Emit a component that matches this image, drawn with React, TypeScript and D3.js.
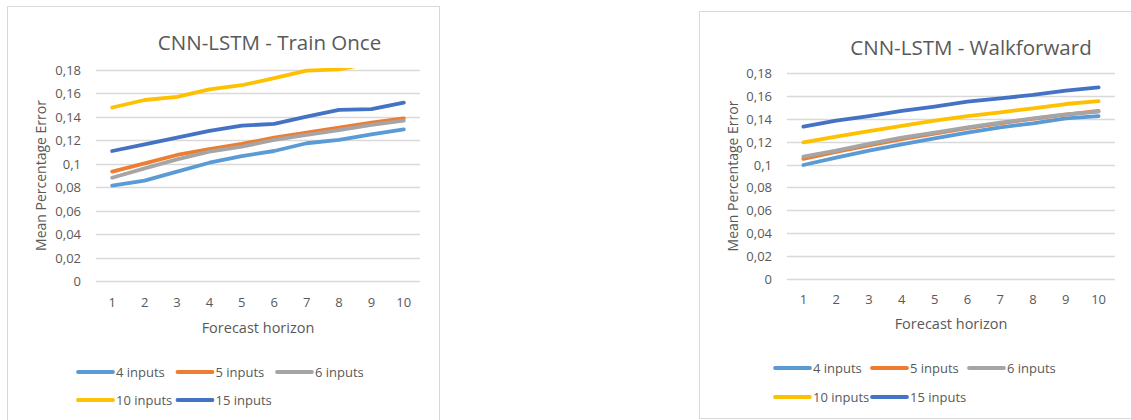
import React from "react";
import * as d3 from "d3";

// Forecast horizons (x categories)
const horizons = [1, 2, 3, 4, 5, 6, 7, 8, 9, 10];
const yTicks = [0, 0.02, 0.04, 0.06, 0.08, 0.1, 0.12, 0.14, 0.16, 0.18];
const seriesNames = ["4 inputs", "5 inputs", "6 inputs", "10 inputs", "15 inputs"];
const seriesColors = ["#5B9BD5", "#ED7D31", "#A5A5A5", "#FFC000", "#4472C4"];

// Train once: mean percentage error per input window
const trainOnce4 = [0.0813, 0.0856, 0.0933, 0.1009, 0.1066, 0.1109, 0.1175, 0.1203, 0.1251, 0.1294];
const trainOnce5 = [0.0933, 0.1004, 0.1075, 0.1126, 0.1169, 0.1223, 0.1265, 0.1308, 0.135, 0.1388];
const trainOnce6 = [0.0881, 0.0961, 0.1038, 0.1103, 0.1146, 0.1203, 0.1246, 0.1288, 0.1331, 0.1368];
const trainOnce10 = [0.148, 0.1544, 0.157, 0.1635, 0.167, 0.173, 0.1795, 0.1805, 0.186, 0.19];
const trainOnce15 = [0.1109, 0.1166, 0.1223, 0.128, 0.1325, 0.134, 0.1402, 0.1459, 0.1467, 0.1521];

// Walkforward: mean percentage error per input window
const walk4 = [0.0996, 0.106, 0.1121, 0.1177, 0.1229, 0.1279, 0.1325, 0.136, 0.1404, 0.1424];
const walk5 = [0.105, 0.111, 0.1168, 0.1222, 0.127, 0.1318, 0.136, 0.14, 0.1437, 0.1468];
const walk6 = [0.1069, 0.1121, 0.118, 0.1235, 0.1279, 0.1325, 0.1366, 0.1404, 0.1439, 0.1462];
const walk10 = [0.1194, 0.1244, 0.1293, 0.1337, 0.1383, 0.1424, 0.1456, 0.1491, 0.1529, 0.1555];
const walk15 = [0.1331, 0.1383, 0.1424, 0.1468, 0.1506, 0.155, 0.1579, 0.1608, 0.1646, 0.1675];

const FONT = "'Open Sans', 'DejaVu Sans', sans-serif";
const TEXT = "#595959";
const GRID = "#D9D9D9";

const fmt = (v: number) => (v === 0 ? "0" : String(+v.toFixed(2)).replace(".", ","));

type Layout = {
  id: string;
  title: string;
  series: number[][];
  frame: { x: number; y: number; w: number; h: number };
  plot: { left: number; right: number; top: number; bottom: number };
  titleX: number;
  titleY: number;
  yTitleX: number;
  xLabelY: number;
  xTitleY: number;
  legend: { x: number; y1: number; y2: number; dx: number };
};

function LineChart({ cfg }: { cfg: Layout }) {
  const { plot } = cfg;
  const x = d3.scaleBand<number>().domain(horizons).range([plot.left, plot.right]);
  const y = d3.scaleLinear().domain([0, 0.18]).range([plot.bottom, plot.top]);
  const cx = (h: number) => (x(h) as number) + x.bandwidth() / 2;
  const line = d3
    .line<number>()
    .x((_, i) => cx(horizons[i]))
    .y((v) => y(v));
  const midX = (plot.left + plot.right) / 2;
  const midY = (plot.top + plot.bottom) / 2;
  const clipId = `clip-${cfg.id}`;

  const legendItems = seriesNames.map((name, i) => {
    const row = i < 3 ? 0 : 1;
    const col = i < 3 ? i : i - 3;
    return { name, color: seriesColors[i], lx: cfg.legend.x + col * cfg.legend.dx, ly: row === 0 ? cfg.legend.y1 : cfg.legend.y2 };
  });

  return (
    <g>
      <rect
        x={cfg.frame.x + 0.5}
        y={cfg.frame.y + 0.5}
        width={cfg.frame.w}
        height={cfg.frame.h}
        fill="#fff"
        stroke={GRID}
        strokeWidth={1}
      />
      <clipPath id={clipId}>
        <rect x={plot.left} y={plot.top - 2} width={plot.right - plot.left} height={plot.bottom - plot.top + 4} />
      </clipPath>
      <text x={cfg.titleX} y={cfg.titleY} textAnchor="middle" dominantBaseline="central" fontSize={20.5} fill={TEXT}>
        {cfg.title}
      </text>
      {yTicks.map((t) => (
        <g key={t}>
          <line x1={plot.left} x2={plot.right} y1={Math.round(y(t)) + 0.5} y2={Math.round(y(t)) + 0.5} stroke={GRID} strokeWidth={1.3} />
          <text x={plot.left - 15} y={y(t)} textAnchor="end" dominantBaseline="central" fontSize={13} fill={TEXT}>
            {fmt(t)}
          </text>
        </g>
      ))}
      {horizons.map((h) => (
        <text key={h} x={cx(h)} y={cfg.xLabelY} textAnchor="middle" dominantBaseline="central" fontSize={13} fill={TEXT}>
          {h}
        </text>
      ))}
      <text
        transform={`translate(${cfg.yTitleX},${midY}) rotate(-90)`}
        textAnchor="middle"
        dominantBaseline="central"
        fontSize={14}
        fill={TEXT}
      >
        Mean Percentage Error
      </text>
      <text x={midX} y={cfg.xTitleY} textAnchor="middle" dominantBaseline="central" fontSize={14.5} fill={TEXT}>
        Forecast horizon
      </text>
      <g clipPath={`url(#${clipId})`}>
        {cfg.series.map((vals, i) => (
          <path
            key={i}
            d={line(vals) || ""}
            fill="none"
            stroke={seriesColors[i]}
            strokeWidth={3.8}
            strokeLinecap="round"
            strokeLinejoin="round"
          />
        ))}
      </g>
      {legendItems.map((it) => (
        <g key={it.name}>
          <line x1={it.lx} x2={it.lx + 35} y1={it.ly} y2={it.ly} stroke={it.color} strokeWidth={3.8} strokeLinecap="round" />
          <text x={it.lx + 38} y={it.ly} dominantBaseline="central" fontSize={13} fill={TEXT}>
            {it.name}
          </text>
        </g>
      ))}
    </g>
  );
}

const trainOnceChart: Layout = {
  id: "train",
  title: "CNN-LSTM - Train Once",
  series: [trainOnce4, trainOnce5, trainOnce6, trainOnce10, trainOnce15],
  frame: { x: 7, y: 6, w: 432, h: 420 },
  plot: { left: 96, right: 420, top: 70, bottom: 281 },
  titleX: 269.5,
  titleY: 42,
  yTitleX: 40,
  xLabelY: 302,
  xTitleY: 327,
  legend: { x: 78, y1: 372, y2: 400, dx: 99.5 },
};

const walkChart: Layout = {
  id: "walk",
  title: "CNN-LSTM - Walkforward",
  series: [walk4, walk5, walk6, walk10, walk15],
  frame: { x: 699, y: 11, w: 440, h: 407 },
  plot: { left: 787, right: 1115, top: 73, bottom: 279 },
  titleX: 971,
  titleY: 47,
  yTitleX: 732,
  xLabelY: 299,
  xTitleY: 323,
  legend: { x: 775, y1: 368, y2: 397, dx: 97 },
};

export default function App() {
  return (
    <svg
      width={1131}
      height={420}
      style={{ position: "fixed", left: 0, top: 0, background: "#fff" }}
      fontFamily={FONT}
    >
      <rect width={1131} height={420} fill="#fff" />
      <LineChart cfg={trainOnceChart} />
      <LineChart cfg={walkChart} />
    </svg>
  );
}
